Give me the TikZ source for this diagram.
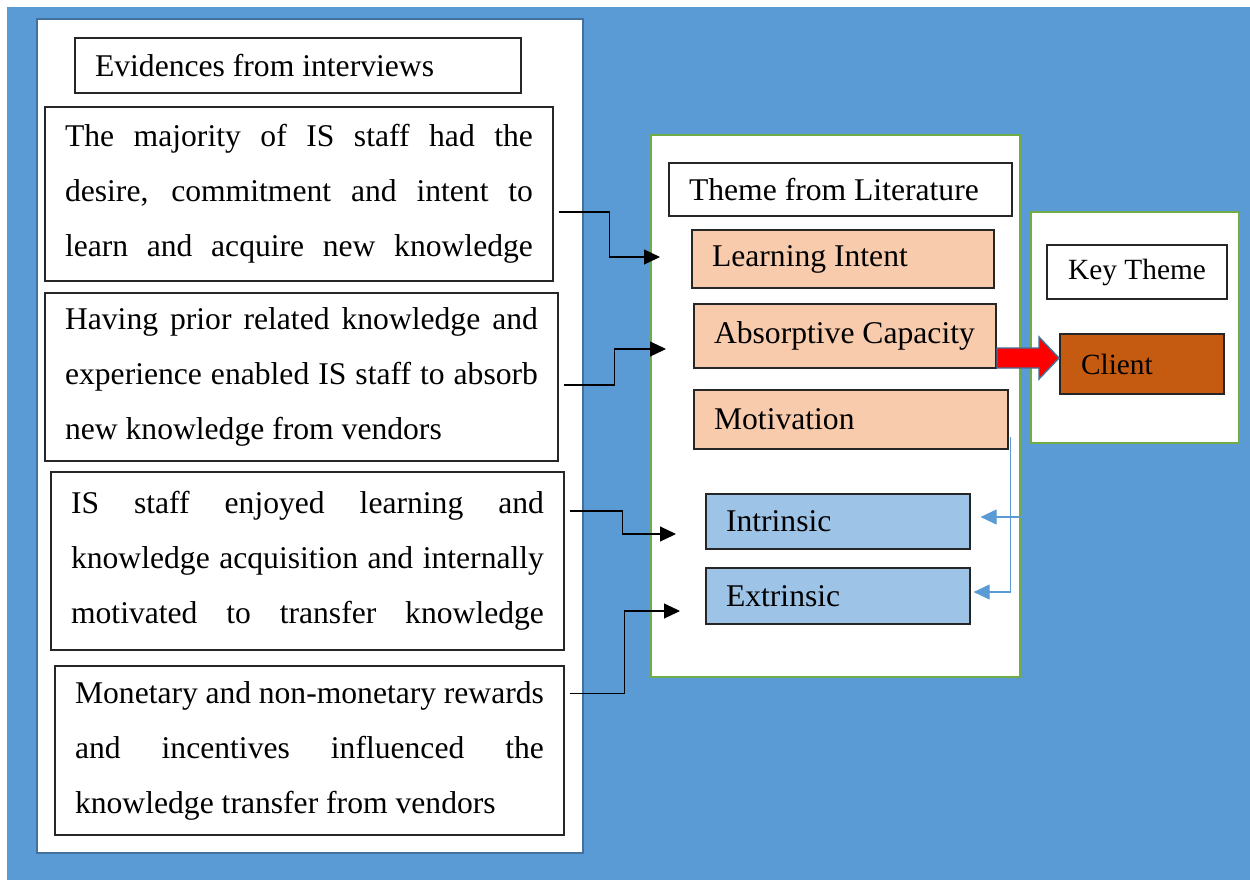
\documentclass[tikz,border=0pt]{standalone}
\usepackage{fontspec}
\setmainfont{Liberation Serif}
\usetikzlibrary{positioning, calc, arrows.meta}
\definecolor{bgblue}{HTML}{5B9BD5}
\definecolor{panelblue}{HTML}{41719C}
\definecolor{panelgreen}{HTML}{70AD47}
\definecolor{peach}{HTML}{F8CBAD}
\definecolor{paleblue}{HTML}{9DC3E6}
\definecolor{rust}{HTML}{C55A11}
\newcommand{\bodyfont}{\fontsize{18}{31.3}\selectfont}
\newcommand{\keyfont}{\fontsize{16.7}{20}\selectfont}
\newcommand{\spread}[1]{\makebox[\hsize][s]{\spaceskip=0pt\xspaceskip=0pt #1}}
\tikzstyle{panel} = [rectangle, fill=white, line width=1.5pt]
\tikzstyle{evidence} = [rectangle, draw=black!85, line width=0.7pt, fill=white, inner xsep=0.4cm, inner ysep=0pt, align=left, font=\bodyfont, execute at begin node={\spaceskip=0pt\xspaceskip=0pt}]
\tikzstyle{heading} = [evidence]
\tikzstyle{theme} = [evidence, fill=peach]
\tikzstyle{subtheme} = [evidence, fill=paleblue]
\tikzstyle{key} = [evidence, font=\keyfont]
\tikzstyle{evarrow} = [line width=0.6pt, -{Triangle[length=0.32cm, width=0.3cm]}]
\tikzstyle{subarrow} = [line width=0.6pt, draw=bgblue, -{Triangle[length=0.32cm, width=0.3cm]}]
\begin{document}
\begin{tikzpicture}[x=0.02cm, y=-0.02cm]
    \useasboundingbox (0,0) rectangle (1250,880);
    \fill [bgblue] (7,7) rectangle (1250,880);

    % evidences
    \node (evpanel) [panel, draw=panelblue, minimum width=10.92cm, minimum height=16.68cm] at (310,436) {};
    \node (evhead) [heading, text width=8.12cm, minimum height=1.1cm] at (298,65.5) {Evidences from interviews};
    \node (ev1) [evidence, text width=9.36cm, minimum height=3.48cm] at (299,194) {\spread{The majority of IS staff had the}\\ \spread{desire, commitment and intent to}\\ \spread{learn and acquire new knowledge}};
    \node (ev2) [evidence, text width=9.46cm, minimum height=3.36cm] at (301.5,377) {\spread{Having prior related knowledge and}\\ \spread{experience enabled IS staff to absorb}\\ new knowledge from vendors};
    \node (ev3) [evidence, text width=9.46cm, minimum height=3.56cm] at (307.5,561) {\spread{IS staff enjoyed learning and}\\ \spread{knowledge acquisition and internally}\\ \spread{motivated to transfer knowledge}};
    \node (ev4) [evidence, text width=9.38cm, minimum height=3.38cm] at (309.5,750.5) {\spread{Monetary and non-monetary rewards}\\ \spread{and incentives influenced the}\\ knowledge transfer from vendors};

    % themes from literature
    \node (litpanel) [panel, draw=panelgreen, minimum width=7.38cm, minimum height=10.84cm] at (835.5,406) {};
    \node (lithead) [heading, text width=6.06cm, minimum height=1.06cm] at (840.5,189.5) {Theme from Literature};
    \node (intent) [theme, text width=5.24cm, minimum height=1.16cm] at (843,259) {Learning Intent};
    \node (absorb) [theme, text width=5.24cm, minimum height=1.28cm] at (845,336) {\mbox{Absorptive Capacity}};
    \node (motiv) [theme, text width=5.48cm, minimum height=1.18cm] at (851,419.5) {Motivation};
    \node (intrinsic) [subtheme, text width=4.48cm, minimum height=1.1cm] at (838,521.5) {Intrinsic};
    \node (extrinsic) [subtheme, text width=4.48cm, minimum height=1.12cm] at (838,596) {Extrinsic};

    % key theme
    \node (keypanel) [panel, draw=panelgreen, minimum width=4.16cm, minimum height=4.62cm] at (1135,327.5) {};
    \node (keyhead) [key, align=center, text width=2.9cm, inner xsep=0.35cm, minimum height=1.08cm] at (1137,272) {Key Theme};
    \node (client) [key, fill=rust, text width=2.44cm, inner xsep=0.42cm, minimum height=1.2cm] at (1142,364) {Client};

    % links
    \coordinate (s1) at ([xshift=0.1cm, yshift=-0.36cm]ev1.east);
    \coordinate (t1) at (660,257);
    \coordinate (s2) at ([xshift=0.1cm, yshift=-0.16cm]ev2.east);
    \coordinate (t2) at (666,349);
    \coordinate (s3) at ([xshift=0.1cm, yshift=1.0cm]ev3.east);
    \coordinate (t3) at (676,534);
    \coordinate (s4) at ([xshift=0.1cm, yshift=1.15cm]ev4.east);
    \coordinate (t4) at (680,611);
    \draw [evarrow] (s1) -| ($(s1)!0.5!(t1)$) |- (t1);
    \draw [evarrow] (s2) -| ($(s2)!0.5!(t2)$) |- (t2);
    \draw [evarrow] (s3) -| ($(s3)!0.5!(t3)$) |- (t3);
    \draw [evarrow] (s4) -| ($(s4)!0.5!(t4)$) |- (t4);

    \coordinate (m0) at ([xshift=0.04cm, yshift=-0.35cm]motiv.east);
    \coordinate (i0) at ([xshift=0.2cm, yshift=0.09cm]intrinsic.east);
    \draw [subarrow] (m0) |- ([xshift=0.06cm, yshift=0.08cm]extrinsic.east);
    \draw [subarrow] (litpanel.east |- i0) -- (i0);

    % block arrow to the key theme
    \draw [draw=panelblue, line width=0.8pt, fill=red] (997,348) -- (1039,348) -- (1039,337) -- (1059,358) -- (1039,379) -- (1039,368) -- (997,368) -- cycle;
\end{tikzpicture}
\end{document}
